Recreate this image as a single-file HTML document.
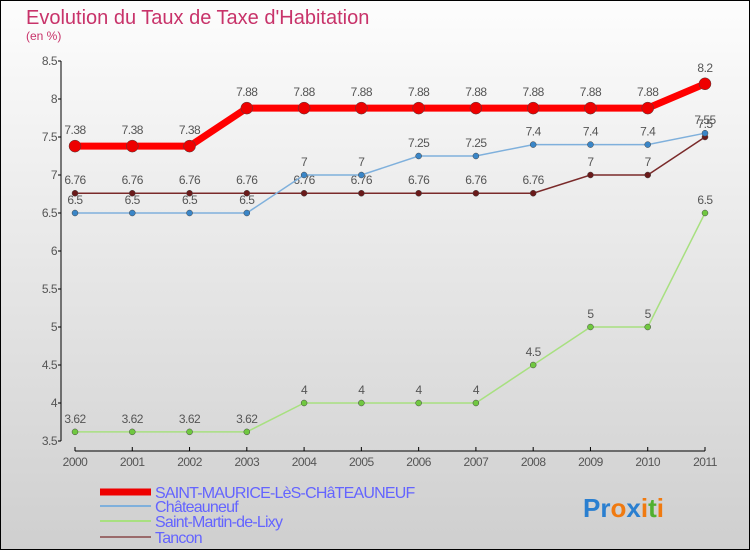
<!DOCTYPE html>
<html><head><meta charset="utf-8"><style>
body{margin:0}
svg{display:block;font-family:"Liberation Sans",sans-serif}
</style></head><body>
<svg id="chart" width="750" height="550">
<defs><linearGradient id="bg" x1="0" y1="0" x2="0" y2="1"><stop offset="0" stop-color="#fdfdfd"/><stop offset="1" stop-color="#cfcfcf"/></linearGradient></defs>
<rect x="0.5" y="0.5" width="749" height="549" fill="url(#bg)" stroke="#000"/>
<text x="26" y="24" font-size="20" fill="#c8336a">Evolution du Taux de Taxe d'Habitation</text>
<text x="26" y="40" font-size="12" fill="#c8336a">(en %)</text>
<g id="axes"></g>
<g id="series"></g>
<g id="legend"></g>
<text x="583" y="517" font-size="26" font-weight="bold"><tspan fill="#2a7fd0">Pr</tspan><tspan fill="#f07a10">o</tspan><tspan fill="#2a7fd0">x</tspan><tspan fill="#f07a10">i</tspan><tspan fill="#50b030">t</tspan><tspan fill="#f07a10">i</tspan></text>
</svg>
<script>
const years=[2000,2001,2002,2003,2004,2005,2006,2007,2008,2009,2010,2011];
const yTicks=[3.5,4,4.5,5,5.5,6,6.5,7,7.5,8,8.5];
const seriesNames=["SAINT-MAURICE-LèS-CHâTEAUNEUF","Châteauneuf","Saint-Martin-de-Lixy","Tancon"];
const saintMaurice=[7.38,7.38,7.38,7.88,7.88,7.88,7.88,7.88,7.88,7.88,7.88,8.2];
const chateauneuf=[6.5,6.5,6.5,6.5,7,7,7.25,7.25,7.4,7.4,7.4,7.55];
const saintMartin=[3.62,3.62,3.62,3.62,4,4,4,4,4.5,5,5,6.5];
const tancon=[6.76,6.76,6.76,6.76,6.76,6.76,6.76,6.76,6.76,7,7,7.5];
const NS="http://www.w3.org/2000/svg";
const xS=i=>75+i*(630/11);
const yS=v=>61+(8.5-v)*76;
function mk(tag,attrs,parent,txt){const e=document.createElementNS(NS,tag);for(const k in attrs)e.setAttribute(k,attrs[k]);if(txt!==undefined)e.textContent=txt;parent.appendChild(e);return e;}
const axes=document.getElementById('axes');
let a=mk('line',{x1:61,y1:61,x2:61,y2:441,stroke:'#000'},axes);


a=mk('line',{x1:75,y1:451,x2:705,y2:451,stroke:'#000'},axes);


yTicks.forEach(v=>{
 mk('line',{x1:58,y1:yS(v),x2:61,y2:yS(v),stroke:'#000'},axes);
 const t=mk('text',{x:57,y:yS(v)+4,'font-size':12,fill:'#555','text-anchor':'end','letter-spacing':-0.5},axes,String(v));
 
 
});
years.forEach((y,i)=>{
 mk('line',{x1:xS(i),y1:447,x2:xS(i),y2:451,stroke:'#000'},axes);
 const t=mk('text',{x:xS(i),y:466,'font-size':12,fill:'#555','text-anchor':'middle','letter-spacing':-0.5},axes,String(y));
 
 
});
const sg=document.getElementById('series');
const defs=[
 {d:tancon,c:'#7a2a2a',w:1.5,r:3,dc:'#6a1a1a',n:'tancon'},
 {d:chateauneuf,c:'#7fb0dc',w:1.5,r:3,dc:'#3a86c8',n:'chateauneuf'},
 {d:saintMartin,c:'#a8e080',w:1.5,r:3,dc:'#70c840',n:'saint-martin'},
 {d:saintMaurice,c:'#ff0000',w:7,r:6,dc:'#ee0000',n:'saint-maurice'}
];
defs.forEach(s=>{
 const g=mk('g',{},sg);
 
 
 const l=mk('polyline',{points:s.d.map((v,i)=>xS(i)+','+yS(v)).join(' '),fill:'none',stroke:s.c,'stroke-width':s.w},g);
 
 
 s.d.forEach((v,i)=>{
  const p=mk('circle',{cx:xS(i),cy:yS(v),r:s.r,fill:s.dc,stroke:'#444','stroke-width':0.5},g);
  
  
  const t=mk('text',{x:xS(i),y:yS(v)-(s.r+6),'font-size':12,fill:'#555','text-anchor':'middle','letter-spacing':-0.5},g,String(v));
  
  
 });
});
const lg=document.getElementById('legend');
const lc=['#ee0000','#7fb0dc','#a8e080','#9a6a6a'],lw=[7,2,2,2],ly=[492,506,521,537];
seriesNames.forEach((n,i)=>{
 const e=mk('g',{},lg);
 
 
 mk('line',{x1:100,y1:ly[i],x2:151,y2:ly[i],stroke:lc[i],'stroke-width':lw[i]},e);
 mk('text',{x:155,y:ly[i]+6,'font-size':16,fill:'#6464ff','letter-spacing':-0.8},e,n);
});
</script>
</body></html>
